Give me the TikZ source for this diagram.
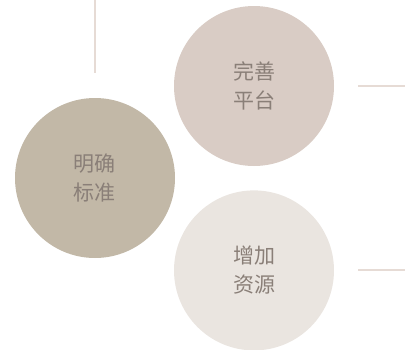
\documentclass[tikz,border=0pt]{standalone}
\usepackage{fontspec}
\setmainfont{Noto Sans CJK SC}
\usepackage{xcolor}
\usetikzlibrary{positioning}
\definecolor{stoneC}{HTML}{C2B8A7}
\definecolor{roseC}{HTML}{D9CCC5}
\definecolor{mistC}{HTML}{EAE5E0}
\definecolor{inkC}{HTML}{8A7F78}
\definecolor{lineC}{HTML}{E6DBD5}

\begin{document}
\begin{tikzpicture}[x = 1pt, y = 1pt,
		goal/.style = { circle, minimum size = 160pt, inner sep = 0pt, text = inkC, align = center,
			font = \fontsize{21pt}{29pt}\selectfont },
		rule/.style = { draw = lineC, line width = 1.5pt }]
		\useasboundingbox (0,0) rectangle (405,-349);

		\node [goal, fill = stoneC]                   (std) at (95,-178) {明确\\标准};
		\node [goal, fill = roseC]                    (plat) at (254,-86) {完善\\平台};
		\node [goal, fill = mistC, below = 24pt of plat] (res) {增加\\资源};

		\coordinate (stdTop) at (95,0);
		\coordinate (stdEnd) at (95,-73);
		\coordinate (platA) at (358,-86);
		\coordinate (platB) at (405,-86);
		\coordinate (resA) at (358,-270);
		\coordinate (resB) at (405,-270);

		\draw [rule] (stdTop) -- (stdEnd);
		\draw [rule] (platA) -- (platB);
		\draw [rule] (resA) -- (resB);
	\end{tikzpicture}
\end{document}
